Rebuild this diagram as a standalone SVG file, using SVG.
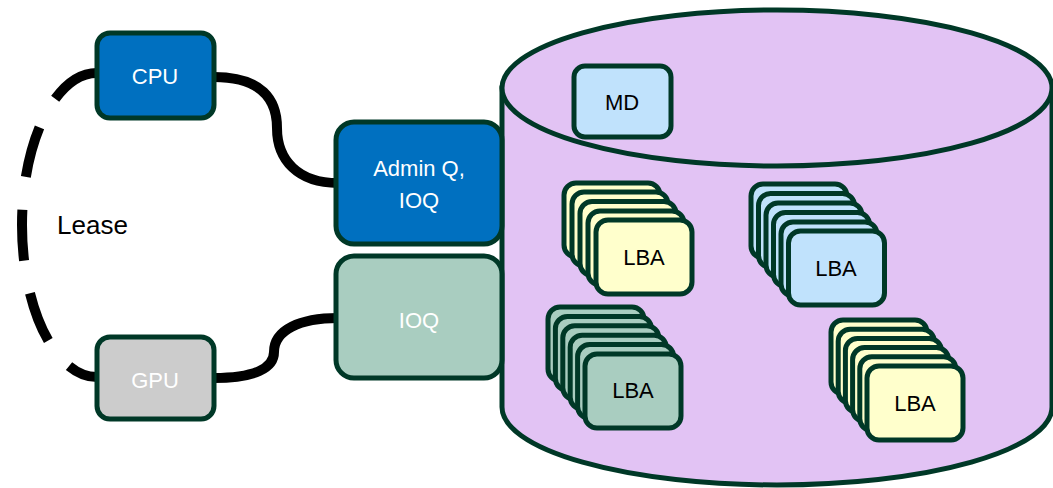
<svg xmlns="http://www.w3.org/2000/svg" width="1053" height="488" viewBox="0 0 1053 488">
<defs>
<style>
.box{stroke:#003827;stroke-width:5}
.card{stroke:#003827;stroke-width:5}
.wire{fill:none;stroke:#000;stroke-width:10}
.t{font-family:"Liberation Sans",Arial,sans-serif;font-size:22px;text-anchor:middle}
.w{fill:#fff}
.k{fill:#000}
.blue{fill:#0070C0}
.gray{fill:#CCCCCC}
.green{fill:#A9CDC0}
.lblue{fill:#C0E2FC}
.yel{fill:#FFFFCC}
.cyl{fill:#E2C3F4;stroke:#003827;stroke-width:5}
</style>
<rect id="c" class="card" width="96" height="74" rx="12"/>
</defs>
<g id="cylinder">
<path class="cyl" d="M502,88 L502,407 A275,78 0 0 0 1052,407 L1052,88 Z"/>
<ellipse class="cyl" cx="777" cy="88" rx="275" ry="78"/>
</g>
<g id="connectors">
<path class="wire" d="M97,73 A75,152 0 0 0 97,377" stroke-dasharray="51 33"/>
<path class="wire" d="M214,77 C262,77 277,100 277,128 C277,160 298,183 338,183"/>
<path class="wire" d="M214,378 C255,378 274,368 274,352 C274,330 300,318 338,318"/>
</g>
<text x="57" y="234" class="t k" style="text-anchor:start;font-size:26px">Lease</text>
<g id="cpu">
<rect class="box blue" x="97" y="33" width="117" height="85" rx="13"/>
<text x="155" y="84" class="t w">CPU</text>
</g>
<g id="gpu">
<rect class="box gray" x="97" y="337" width="117" height="82" rx="13"/>
<text x="155" y="388" class="t w">GPU</text>
</g>
<g id="adminq">
<rect class="box blue" x="336" y="122" width="166" height="122" rx="18"/>
<text x="419" y="176" class="t w">Admin Q,</text>
<text x="419" y="208" class="t w">IOQ</text>
</g>
<g id="ioq">
<rect class="box green" x="336" y="256" width="166" height="122" rx="18"/>
<text x="419" y="328" class="t w">IOQ</text>
</g>
<g id="md">
<rect class="box lblue" x="574" y="66" width="97" height="71" rx="11"/>
<text x="622" y="110" class="t k">MD</text>
</g>
<g id="lba-yellow-1" class="yel">
<use href="#c" x="564" y="183"/>
<use href="#c" x="572" y="192"/>
<use href="#c" x="580" y="201.5"/>
<use href="#c" x="588" y="211"/>
<use href="#c" x="596" y="220"/>
<text x="644" y="265" class="t k">LBA</text>
</g>
<g id="lba-blue" class="lblue">
<use href="#c" x="751" y="184"/>
<use href="#c" x="758.5" y="193.5"/>
<use href="#c" x="766" y="203"/>
<use href="#c" x="773.5" y="212.5"/>
<use href="#c" x="781" y="222"/>
<use href="#c" x="788.5" y="231"/>
<text x="836" y="276" class="t k">LBA</text>
</g>
<g id="lba-green" class="green">
<use href="#c" x="548" y="307"/>
<use href="#c" x="555.4" y="316.4"/>
<use href="#c" x="562.8" y="325.8"/>
<use href="#c" x="570.2" y="335.2"/>
<use href="#c" x="577.6" y="344.6"/>
<use href="#c" x="585" y="354"/>
<text x="633" y="398" class="t k">LBA</text>
</g>
<g id="lba-yellow-2" class="yel">
<use href="#c" x="831" y="320"/>
<use href="#c" x="838.2" y="329.2"/>
<use href="#c" x="845.4" y="338.4"/>
<use href="#c" x="852.6" y="347.6"/>
<use href="#c" x="859.8" y="356.8"/>
<use href="#c" x="867" y="366"/>
<text x="915" y="411" class="t k">LBA</text>
</g>
</svg>
